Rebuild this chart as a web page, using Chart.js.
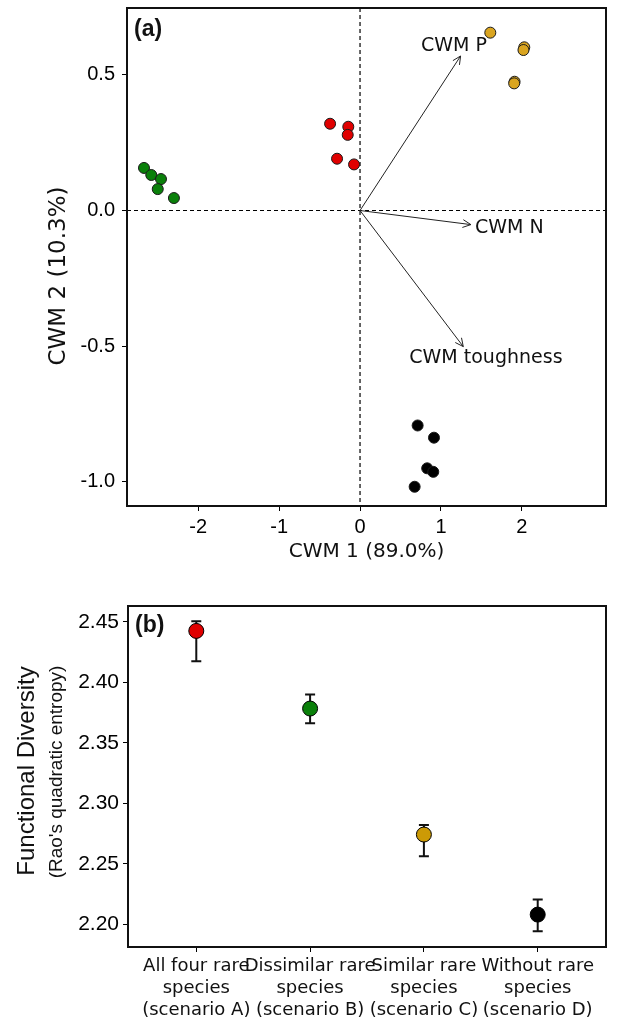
<!DOCTYPE html>
<html>
<head>
<meta charset="utf-8">
<script src="https://cdn.jsdelivr.net/npm/chart.js@4.4.1/dist/chart.umd.min.js"></script>
<style>
  html, body { margin: 0; padding: 0; background: #fff; }
  #wrap { position: relative; width: 623px; height: 1019px; }
  #ordination { position: absolute; left: 0; top: 0; }
  #diversity { position: absolute; left: 0; top: 575px; }
</style>
</head>
<body>
<div id="wrap">
  <canvas id="ordination" width="623" height="575"></canvas>
  <canvas id="diversity" width="623" height="444"></canvas>
</div>
<script>
// (a) CWM ordination scores, one pair of arrays per scenario group
const greenX = [-2.67, -2.58, -2.46, -2.50, -2.30];
const greenY = [0.157, 0.131, 0.116, 0.079, 0.046];
const redX = [-0.37, -0.145, -0.152, -0.284, -0.074];
const redY = [0.320, 0.309, 0.279, 0.191, 0.170];
const goldX = [1.61, 2.03, 2.02, 1.91, 1.905];
const goldY = [0.656, 0.602, 0.592, 0.475, 0.469];
const blackX = [0.712, 0.914, 0.83, 0.905, 0.675];
const blackY = [-0.793, -0.838, -0.951, -0.964, -1.019];

// trait vectors and where their names sit (data units)
const traitNames = ['CWM P', 'CWM N', 'CWM toughness'];
const traitX = [1.243, 1.37, 1.276];
const traitY = [0.570, -0.052, -0.502];
const traitLabelX = [1.16, 1.846, 1.556];
const traitLabelY = [0.607, -0.065, -0.544];

const xTicksA = [-2, -1, 0, 1, 2];
const yTicksA = [-1, -0.5, 0, 0.5];

// (b) Rao's quadratic entropy per scenario
const scenarios = [
  ['All four rare', 'species', '(scenario A)'],
  ['Dissimilar rare', 'species', '(scenario B)'],
  ['Similar rare', 'species', '(scenario C)'],
  ['Without rare', 'species', '(scenario D)']
];
const raoMean = [2.4426, 2.3784, 2.2742, 2.208];
const raoLow = [2.4175, 2.3662, 2.2562, 2.1942];
const raoHigh = [2.4506, 2.390, 2.2821, 2.2204];
const yTicksB = [2.20, 2.25, 2.30, 2.35, 2.40, 2.45];

const colRed = '#e00000', colGreen = '#0a800a', colGold = '#daa520', colBlack = '#000000';

function group(xs, ys, color) {
  return {
    data: xs.map((x, i) => ({ x: x, y: ys[i] })),
    backgroundColor: color,
    borderColor: '#1a1a1a',
    borderWidth: 1,
    pointRadius: 5.5
  };
}

// box round the plot area
const frame = {
  id: 'frame',
  afterDraw(chart) {
    const { ctx, chartArea: a } = chart;
    ctx.save();
    ctx.strokeStyle = '#111';
    ctx.lineWidth = 2;
    ctx.strokeRect(a.left, a.top, a.right - a.left, a.bottom - a.top);
    ctx.restore();
  }
};

function tag(text, x, y) {
  return {
    id: 'tag',
    afterDraw(chart) {
      const ctx = chart.ctx;
      ctx.save();
      ctx.font = 'bold 23px "Liberation Sans"';
      ctx.fillStyle = '#111';
      ctx.textAlign = 'left';
      ctx.textBaseline = 'alphabetic';
      ctx.fillText(text, x, y);
      ctx.restore();
    }
  };
}

function sideText(lines) {
  return {
    id: 'sideText',
    afterDraw(chart) {
      const ctx = chart.ctx;
      lines.forEach(l => {
        ctx.save();
        ctx.translate(l.x, l.y);
        ctx.rotate(-Math.PI / 2);
        ctx.font = l.font;
        ctx.fillStyle = '#111';
        ctx.textAlign = 'center';
        ctx.textBaseline = 'middle';
        ctx.fillText(l.text, 0, 0);
        ctx.restore();
      });
    }
  };
}

const zeroLines = {
  id: 'zeroLines',
  beforeDatasetsDraw(chart) {
    const { ctx, chartArea: a, scales: { x, y } } = chart;
    const px = x.getPixelForValue(0), py = y.getPixelForValue(0);
    ctx.save();
    ctx.setLineDash([4, 3]);
    ctx.lineWidth = 1.2;
    ctx.strokeStyle = '#000';
    ctx.beginPath();
    ctx.moveTo(a.left, py); ctx.lineTo(a.right, py);
    ctx.moveTo(px, a.top); ctx.lineTo(px, a.bottom);
    ctx.stroke();
    ctx.restore();
  }
};

const vectors = {
  id: 'vectors',
  afterDatasetsDraw(chart) {
    const { ctx, scales: { x, y } } = chart;
    const ox = x.getPixelForValue(0), oy = y.getPixelForValue(0);
    ctx.save();
    ctx.strokeStyle = '#222';
    ctx.lineWidth = 1;
    ctx.fillStyle = '#111';
    ctx.font = '19px "DejaVu Sans"';
    ctx.textAlign = 'center';
    ctx.textBaseline = 'middle';
    traitNames.forEach((name, i) => {
      const tx = x.getPixelForValue(traitX[i]), ty = y.getPixelForValue(traitY[i]);
      const ang = Math.atan2(ty - oy, tx - ox);
      ctx.beginPath();
      ctx.moveTo(ox, oy); ctx.lineTo(tx, ty);
      [-1, 1].forEach(s => {
        ctx.moveTo(tx, ty);
        ctx.lineTo(tx - 9 * Math.cos(ang + s * 0.45), ty - 9 * Math.sin(ang + s * 0.45));
      });
      ctx.stroke();
      ctx.fillText(name, x.getPixelForValue(traitLabelX[i]), y.getPixelForValue(traitLabelY[i]));
    });
    ctx.restore();
  }
};

const errorBars = {
  id: 'errorBars',
  beforeDatasetsDraw(chart) {
    const { ctx, scales: { x, y } } = chart;
    ctx.save();
    ctx.strokeStyle = '#111';
    ctx.lineWidth = 2;
    raoMean.forEach((m, i) => {
      const px = x.getPixelForValue(i);
      const lo = y.getPixelForValue(raoLow[i]), hi = y.getPixelForValue(raoHigh[i]);
      ctx.beginPath();
      ctx.moveTo(px, lo); ctx.lineTo(px, hi);
      ctx.moveTo(px - 5, lo); ctx.lineTo(px + 5, lo);
      ctx.moveTo(px - 5, hi); ctx.lineTo(px + 5, hi);
      ctx.stroke();
    });
    ctx.restore();
  }
};

// ---- panel (a)
new Chart(document.getElementById('ordination'), {
  type: 'scatter',
  data: {
    datasets: [
      group(greenX, greenY, colGreen),
      group(redX, redY, colRed),
      group(goldX, goldY, colGold),
      group(blackX, blackY, colBlack)
    ]
  },
  options: {
    responsive: false,
    animation: false,
    events: [],
    layout: { padding: { top: 8, right: 17, bottom: 0, left: 0 } },
    plugins: { legend: { display: false }, tooltip: { enabled: false } },
    scales: {
      x: {
        type: 'linear', min: -2.88, max: 3.04,
        afterBuildTicks: s => { s.ticks = xTicksA.map(v => ({ value: v })); },
        afterFit: s => { s.height = 69; s.paddingLeft = 0; s.paddingRight = 0; },
        grid: { drawOnChartArea: false, tickLength: 5, tickColor: '#000' },
        border: { display: false },
        ticks: { padding: 4, color: '#000', autoSkip: false, maxRotation: 0,
                 font: { family: 'Liberation Sans', size: 20 }, callback: v => String(v) },
        title: { display: true, text: 'CWM 1 (89.0%)', color: '#111',
                 font: { family: 'DejaVu Sans', size: 20 }, padding: { top: 0, bottom: 11 } }
      },
      y: {
        type: 'linear', min: -1.09, max: 0.747,
        afterBuildTicks: s => { s.ticks = yTicksA.map(v => ({ value: v })); },
        afterFit: s => { s.width = 127; s.paddingTop = 0; s.paddingBottom = 0; },
        grid: { drawOnChartArea: false, tickLength: 5, tickColor: '#000' },
        border: { display: false },
        ticks: { padding: 7, color: '#000', autoSkip: false,
                 font: { family: 'Liberation Sans', size: 20 }, callback: v => v.toFixed(1) }
      }
    }
  },
  plugins: [zeroLines, vectors, frame, tag('(a)', 134, 36),
    sideText([{ text: 'CWM 2 (10.3%)', x: 59, y: 276, font: '23px "DejaVu Sans"' }])]
});

// ---- panel (b)
new Chart(document.getElementById('diversity'), {
  type: 'scatter',
  data: {
    datasets: [{
      data: raoMean.map((m, i) => ({ x: i, y: m })),
      backgroundColor: [colRed, colGreen, '#cc9a06', colBlack],
      borderColor: '#000',
      borderWidth: 1,
      pointRadius: 7.5
    }]
  },
  options: {
    responsive: false,
    animation: false,
    events: [],
    layout: { padding: { top: 31, right: 17, bottom: 0, left: 0 } },
    plugins: { legend: { display: false }, tooltip: { enabled: false } },
    scales: {
      x: {
        type: 'linear', min: -0.6, max: 3.6,
        afterBuildTicks: s => { s.ticks = scenarios.map((c, i) => ({ value: i })); },
        afterFit: s => { s.height = 72; s.paddingLeft = 0; s.paddingRight = 0; },
        grid: { drawOnChartArea: false, tickLength: 5, tickColor: '#000' },
        border: { display: false },
        ticks: { padding: 3, color: '#111', autoSkip: false, maxRotation: 0, minRotation: 0,
                 font: { family: 'DejaVu Sans', size: 18, lineHeight: 1.22 },
                 callback: v => scenarios[v] }
      },
      y: {
        type: 'linear', min: 2.1812, max: 2.4632,
        afterBuildTicks: s => { s.ticks = yTicksB.map(v => ({ value: v })); },
        afterFit: s => { s.width = 128; s.paddingTop = 0; s.paddingBottom = 0; },
        grid: { drawOnChartArea: false, tickLength: 5, tickColor: '#000' },
        border: { display: false },
        ticks: { padding: 4, color: '#000', autoSkip: false,
                 font: { family: 'Liberation Sans', size: 21 }, callback: v => v.toFixed(2) }
      }
    }
  },
  plugins: [errorBars, frame, tag('(b)', 135, 57),
    sideText([
      { text: 'Functional Diversity', x: 27, y: 196, font: '24px "Liberation Sans"' },
      { text: "(Rao's quadratic entropy)", x: 57, y: 197, font: '19px "Liberation Sans"' }
    ])]
});
</script>
</body>
</html>
